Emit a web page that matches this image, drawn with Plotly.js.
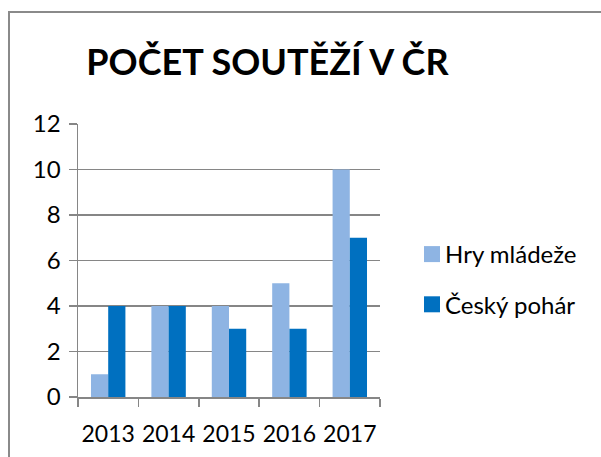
<!DOCTYPE html>
<html>
<head>
<meta charset="utf-8">
<script src="https://cdn.plot.ly/plotly-3.0.1.min.js"></script>
<style>
html,body{margin:0;padding:0;background:#fff;}
#wrap{position:relative;width:601px;height:457px;overflow:hidden;}
#frame{position:absolute;left:8px;top:11px;width:700px;height:600px;border:2px solid #8a8a8a;box-sizing:border-box;pointer-events:none;z-index:2;}
#chart{position:absolute;left:0;top:0;width:601px;height:457px;}
</style>
</head>
<body>
<div id="wrap"><div id="frame"></div><div id="chart"></div></div>
<script>
const years = ['2013','2014','2015','2016','2017'];
const hryMladeze = [1, 4, 4, 5, 10];
const ceskyPohar = [4, 4, 3, 3, 7];
const seriesNames = ['Hry mládeže', 'Český pohár'];
const titleText = 'POČET SOUTĚŽÍ V ČR';

const font = 'Lato, "Open Sans", sans-serif';
const traces = [
  {type:'bar', x:years, y:hryMladeze, name:seriesNames[0], legendgroup:'a', marker:{color:'#8eb4e3'}},
  {type:'bar', x:years, y:ceskyPohar, name:seriesNames[1], legendgroup:'b', marker:{color:'#0070c0'}}
];
const layout = {
  width:601, height:457,
  margin:{l:78, r:221, t:124, b:60},
  paper_bgcolor:'rgba(0,0,0,0)', plot_bgcolor:'rgba(0,0,0,0)',
  barmode:'group', bargap:0.43, bargroupgap:0,
  font:{family:font, color:'#000'},
  title:{text:'<b>'+titleText+'</b>', font:{family:font, size:36, color:'#000'}, xref:'container', yref:'container', x:0.445, xanchor:'center', y:1-62/457, yanchor:'middle'},
  xaxis:{type:'category', tickson:'boundaries', ticks:'outside', ticklen:8, tickcolor:'#868686', tickwidth:1.5, tickangle:0,
         showline:true, linecolor:'#868686', linewidth:1.5, showgrid:false, tickfont:{size:23}, ticklabelstandoff:16, fixedrange:true},
  yaxis:{range:[0,12], dtick:2, ticks:'outside', ticklen:8, tickcolor:'#868686', tickwidth:1.5,
         showline:true, linecolor:'#868686', linewidth:1.5, showgrid:true, gridcolor:'#868686', gridwidth:1.5,
         zeroline:false, tickfont:{size:24}, ticklabelstandoff:3, fixedrange:true},
  showlegend:true,
  legend:{x:405/601, xref:'container', xanchor:'left', y:1-232/457, yref:'container', yanchor:'top', tracegroupgap:16,
          font:{family:font, size:24, color:'#000'}, bgcolor:'rgba(0,0,0,0)', itemclick:false, itemdoubleclick:false}
};
Plotly.newPlot('chart', traces, layout, {displayModeBar:false, staticPlot:true}).then(function(gd){
  gd.querySelectorAll('.legendpoints path').forEach(function(p){
    p.setAttribute('d','M8,8H-8V-8H8Z');
    p.setAttribute('transform','translate(27,0)');
  });
});
</script>
</body>
</html>
